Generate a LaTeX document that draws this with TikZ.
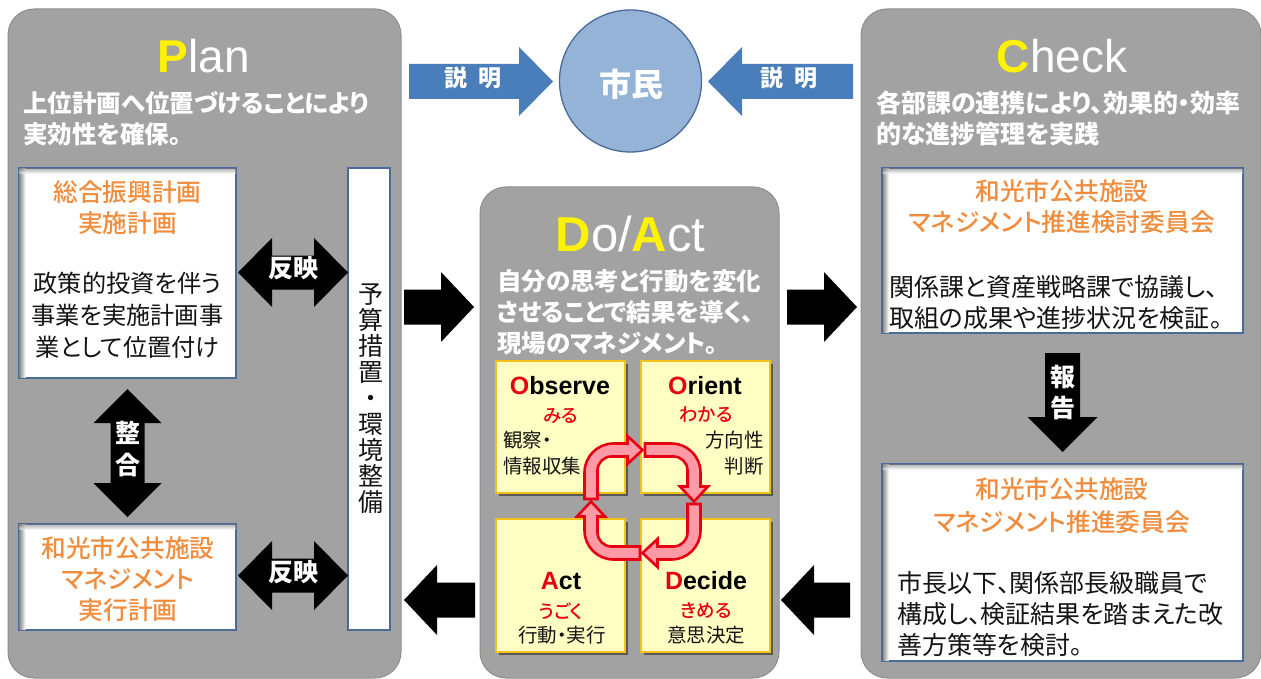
\documentclass[tikz,border=0pt]{standalone}
\usepackage{fontspec}
\usetikzlibrary{shadows}
\setmainfont{Liberation Sans}
\newfontfamily\cjk[RawFeature={+palt}]{Noto Sans CJK JP}
\newfontfamily\cjkm[RawFeature={+palt}]{Noto Sans CJK JP Medium}
\newfontfamily\titlefont{Liberation Sans}
\definecolor{panelgray}{HTML}{A2A2A2}
\definecolor{panelline}{HTML}{8E8E8E}
\definecolor{orangetxt}{HTML}{F08C3C}
\definecolor{boxline}{HTML}{4A6A98}
\definecolor{bluearrow}{HTML}{4A7EBB}
\definecolor{circfill}{HTML}{95B3D7}
\definecolor{cellfill}{HTML}{FFFFC4}
\definecolor{cellline}{HTML}{F2C21A}
\definecolor{cycfill}{HTML}{FF9AA6}
\definecolor{cycline}{HTML}{E60012}
\definecolor{bodytxt}{HTML}{141414}
\newcommand\fs[2]{\fontsize{#1}{#2}\selectfont}
\newcommand\ini[1]{\textcolor{yellow}{\bfseries #1}}
\newcommand\SArrow[8]{\begin{scope}[shift={(#2,#3)},rotate=#4]
\path[#1] (0,-#7) -- ({#5-#6},-#7) -- ({#5-#6},-#8) -- (#5,0) -- ({#5-#6},#8) -- ({#5-#6},#7) -- (0,#7) -- cycle;
\end{scope}}
\newcommand\DArrow[8]{\begin{scope}[shift={(#2,#3)},rotate=#4]
\path[#1] (0,0) -- (#6,-#8) -- (#6,-#7) -- ({#5-#6},-#7) -- ({#5-#6},-#8) -- (#5,0) -- ({#5-#6},#8) -- ({#5-#6},#7) -- (#6,#7) -- (#6,#8) -- cycle;
\end{scope}}
\newcommand\InShadow[4]{%
\shade[left color=black!45,right color=white] (#1,#2) rectangle ({#1+6},#4);
\shade[top color=black!45,bottom color=white,opacity=.6] (#1,#2) rectangle (#3,{#2+5});}
\tikzset{
 x=1pt,y=-1pt,
 panel/.style={draw=panelline,line width=1pt,fill=panelgray,rounded corners=26pt},
 whitebox/.style={draw=boxline,line width=1.4pt,fill=white},
 cell/.style={draw=cellline,line width=1.6pt,fill=cellfill,drop shadow={shadow xshift=3pt,shadow yshift=-3pt,opacity=.45,fill=black}},
 blockblack/.style={fill=black},
 blockblue/.style={fill=bluearrow},
 cyc/.style={draw=cycline,line width=2.6pt,fill=cycfill,line join=miter},
 headtxt/.style={text=white,font=\titlefont\fs{46}{50},inner sep=0pt},
 leadtxt/.style={text=white,font=\cjk\bfseries\fs{24.5}{31},align=left,inner sep=0pt,anchor=west},
 orangetitle/.style={text=orangetxt,font=\cjkm\fs{24.7}{31},align=center,inner sep=0pt},
 bodytext/.style={text=bodytxt,font=\cjk\fs{25}{31},align=left,inner sep=0pt,anchor=west},
 arrowlabel/.style={text=white,font=\cjk\bfseries\fs{25}{32},align=center,inner sep=0pt},
 celltitle/.style={text=black,font=\bfseries\fs{25}{28},inner sep=0pt},
 cellred/.style={text=cycline,font=\cjkm\fs{18.5}{20},inner sep=0pt},
 celltxt/.style={text=bodytxt,font=\cjk\fs{19.5}{26},inner sep=0pt},
}
\begin{document}
\begin{tikzpicture}
\useasboundingbox (0,0) rectangle (1261,679);
\fill[white] (0,0) rectangle (1261,679);
% panels
\draw[panel] (8,9) rectangle (401,678);
\draw[panel] (480,187) rectangle (779,678);
\draw[panel] (861,9) rectangle (1261,678);
% citizen
\node[circle,draw=boxline,line width=1.3pt,fill=circfill,minimum size=142pt,inner sep=0pt] (citizen) at (630.5,81) {};
\node[text=white,font=\cjk\bfseries\fs{32}{36},inner sep=0pt] (citizenlabel) at (631,84) {市民};
% titles
\node[headtxt] (plantitle) at (204,56) {\ini{P}lan};
\node[headtxt] (checktitle) at (1062,56) {\ini{C}heck};
\node[headtxt,font=\titlefont\fs{49}{50}] (dotitle) at (630.5,234) {\ini{D}o/\ini{A}ct};
\node[leadtxt] (planlead) at (23,119) {上位計画へ位置づけることにより\\実効性を確保。};
\node[leadtxt,font=\cjk\bfseries\fs{25}{31}] (checklead) at (876,118) {各部課の連携により、効果的・効率\\的な進捗管理を実践};
\node[leadtxt] (dolead) at (497,312) {自分の思考と行動を変化\\させることで結果を導く、\\現場のマネジメント。};
% white boxes
\node[whitebox,minimum width=217pt,minimum height=210pt,inner sep=0pt] (sogo) at (127.5,273) {};
\node[whitebox,minimum width=217pt,minimum height=106pt,inner sep=0pt] (wakoplan) at (127.5,577) {};
\node[whitebox,minimum width=42pt,minimum height=462pt,inner sep=0pt] (yosan) at (369,399) {};
\node[whitebox,minimum width=361pt,minimum height=165pt,inner sep=0pt] (kento) at (1062.5,250.5) {};
\node[whitebox,minimum width=361pt,minimum height=197pt,inner sep=0pt] (suishin) at (1062.5,562.5) {};
\InShadow{19.5}{168.8}{235.3}{377.3}
\InShadow{19.5}{524.8}{235.3}{629.3}
\InShadow{882.8}{168.8}{1242.3}{332.3}
\InShadow{882.8}{464.8}{1242.3}{660.3}
% box texts
\node[orangetitle] (sogot) at (127.5,207.5) {総合振興計画\\実施計画};
\node[bodytext,font=\cjk\fs{24.2}{32},anchor=center,align=center] (sogob) at (127.5,315.5) {政策的投資を伴う\\事業を実施計画事\\業として位置付け};
\node[orangetitle] (wakot) at (128,579) {和光市公共施設\\マネジメント\\実行計画};
\node[text=bodytxt,font=\cjk\fs{25}{26},align=center,inner sep=0pt] (yosant) at (370.5,399) {予\\算\\措\\置\\・\\環\\境\\整\\備};
\node[orangetitle] (kentot) at (1062,206.5) {和光市公共施設\\マネジメント推進検討委員会};
\node[bodytext] (kentob) at (889,302.5) {関係課と資産戦略課で協議し、\\取組の成果や進捗状況を検証。};
\node[orangetitle,font=\cjkm\fs{24.7}{33}] (suishint) at (1062,505.5) {和光市公共施設\\マネジメント推進委員会};
\node[bodytext] (suishinb) at (897,614) {市長以下、関係部長級職員で\\構成し、検証結果を踏まえた改\\善方策等を検討。};
% block arrows
\SArrow{blockblue}{409}{81.5}{0}{144}{34}{17.5}{34.5}
\SArrow{blockblue}{853}{81.5}{180}{145}{34}{17.5}{34.5}
\node[text=white,font=\cjk\bfseries\fs{23}{24},inner sep=0pt] (setsu1) at (473,78) {説\hspace{11pt}明};
\node[text=white,font=\cjk\bfseries\fs{23}{24},inner sep=0pt] (setsu2) at (788.5,78) {説\hspace{11pt}明};
\SArrow{blockblack}{404}{307}{0}{70}{33}{17.5}{35}
\SArrow{blockblack}{787}{307}{0}{70}{33}{17.5}{35}
\SArrow{blockblack}{850}{600}{180}{69}{33}{17.5}{35}
\SArrow{blockblack}{475}{600}{180}{71}{33}{17.5}{35}
\DArrow{blockblack}{238}{272.5}{0}{110}{34}{17}{34.5}
\DArrow{blockblack}{238}{575.5}{0}{110}{34}{17}{34.5}
\DArrow{blockblack}{127.5}{389}{-90}{128}{34}{17}{34}
\SArrow{blockblack}{1062.5}{353}{-90}{99}{35}{17.5}{35}
\node[arrowlabel] (hanei1) at (293,268) {反映};
\node[arrowlabel] (hanei2) at (293,572) {反映};
\node[arrowlabel] (seigo) at (127.5,449) {整\\合};
\node[arrowlabel,font=\cjk\bfseries\fs{25}{31}] (hokoku) at (1062.5,392.5) {報\\告};
% cells
\node[cell,minimum width=129pt,minimum height=132pt,inner sep=0pt] (observe) at (560.5,427) {};
\node[cell,minimum width=129pt,minimum height=132pt,inner sep=0pt] (orient) at (705.5,427) {};
\node[cell,minimum width=129pt,minimum height=133pt,inner sep=0pt] (actcell) at (560.5,585.5) {};
\node[cell,minimum width=129pt,minimum height=133pt,inner sep=0pt] (decide) at (705.5,585.5) {};
\node[celltitle] (obst) at (560,386) {\textcolor{cycline}{O}bserve};
\node[cellred] (obsr) at (561,416) {みる};
\node[celltxt,align=left,anchor=west] (obsb) at (503,453.5) {観察・\\情報収集};
\node[celltitle] (orit) at (705,386) {\textcolor{cycline}{O}rient};
\node[cellred] (orir) at (706,415) {わかる};
\node[celltxt,align=right,anchor=east] (orib) at (764,453) {方向性\\判断};
\node[celltitle] (actt) at (561,581) {\textcolor{cycline}{A}ct};
\node[cellred] (actr) at (561,611) {うごく};
\node[celltxt] (actb) at (562,635) {行動・実行};
\node[celltitle] (dect) at (706,581) {\textcolor{cycline}{D}ecide};
\node[cellred] (decr) at (706,611) {きめる};
\node[celltxt] (decb) at (706,635) {意思決定};
% cycle arrows
\foreach \ang in {0,-90,-180,-270}{
\begin{scope}[shift={(642.5,501.5)},rotate=\ang]
\draw[cyc] (-58,-2.5) [rounded corners=29pt] -- (-58,-58) [sharp corners] -- (-15,-58) -- (-15,-65.5) -- (0,-51.5) -- (-15,-37.5) -- (-15,-45) [rounded corners=14pt] -- (-45,-45) [sharp corners] -- (-45,-2.5) -- cycle;
\end{scope}}
\end{tikzpicture}
\end{document}
